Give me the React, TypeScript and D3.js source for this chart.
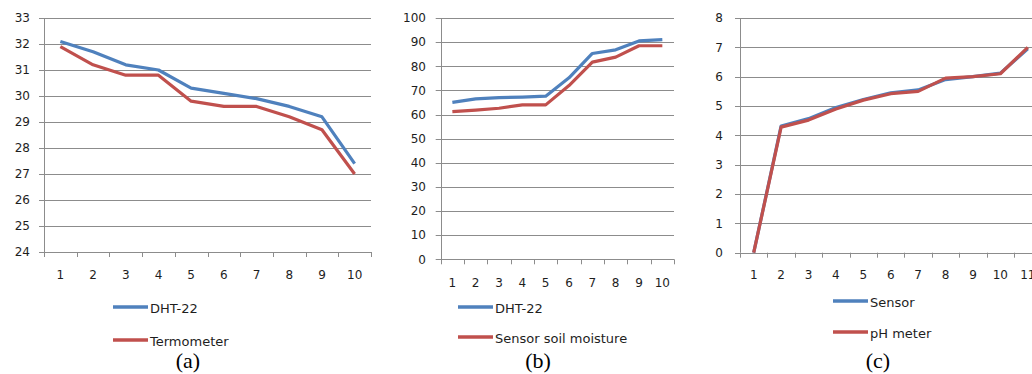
import React from 'react';
import * as d3 from 'd3';

// panel (a): temperature
const catsA = ['1', '2', '3', '4', '5', '6', '7', '8', '9', '10'];
const dhtTemp = [32.1, 31.7, 31.2, 31.0, 30.3, 30.1, 29.9, 29.6, 29.2, 27.4];
const termometer = [31.9, 31.2, 30.8, 30.8, 29.8, 29.6, 29.6, 29.2, 28.7, 27.0];
const ticksA = [24, 25, 26, 27, 28, 29, 30, 31, 32, 33];

// panel (b): humidity
const catsB = ['1', '2', '3', '4', '5', '6', '7', '8', '9', '10'];
const dhtHum = [65, 66.5, 67, 67.2, 67.6, 75.2, 85.3, 86.8, 90.5, 91];
const soilMoisture = [61.2, 61.8, 62.6, 64, 64, 72, 81.7, 83.8, 88.5, 88.5];
const ticksB = [0, 10, 20, 30, 40, 50, 60, 70, 80, 90, 100];

// panel (c): pH
const catsC = ['1', '2', '3', '4', '5', '6', '7', '8', '9', '10', '11'];
const phSensor = [0, 4.32, 4.57, 4.95, 5.22, 5.45, 5.55, 5.9, 6.0, 6.12, 6.95];
const phMeter = [0, 4.28, 4.52, 4.9, 5.2, 5.42, 5.5, 5.95, 6.0, 6.1, 7.0];
const ticksC = [0, 1, 2, 3, 4, 5, 6, 7, 8];

const BLUE = '#4f81bd';
const RED = '#c0504d';
const GRID = '#8c8c8c';
const TEXT = '#1e1e1e';
const FONT = 'DejaVu Sans, Verdana, sans-serif';

type Panel = {
  cats: string[];
  series: { name: string; values: number[]; color: string }[];
  ticks: number[];
  x0: number; x1: number; yTop: number; yBot: number;
  labelRight: number; xLabelY: number;
  legX: number; legY: number[]; caption: string; captionX: number;
};

const panels: Panel[] = [
  {
    cats: catsA,
    series: [
      { name: 'DHT-22', values: dhtTemp, color: BLUE },
      { name: 'Termometer', values: termometer, color: RED },
    ],
    ticks: ticksA,
    x0: 44, x1: 371, yTop: 18, yBot: 252,
    labelRight: 30, xLabelY: 275,
    legX: 113, legY: [307, 340], caption: '(a)', captionX: 188,
  },
  {
    cats: catsB,
    series: [
      { name: 'DHT-22', values: dhtHum, color: BLUE },
      { name: 'Sensor soil moisture', values: soilMoisture, color: RED },
    ],
    ticks: ticksB,
    x0: 440.7, x1: 674, yTop: 18, yBot: 259.3,
    labelRight: 426, xLabelY: 283,
    legX: 458, legY: [307, 337], caption: '(b)', captionX: 538,
  },
  {
    cats: catsC,
    series: [
      { name: 'Sensor', values: phSensor, color: BLUE },
      { name: 'pH meter', values: phMeter, color: RED },
    ],
    ticks: ticksC,
    x0: 740, x1: 1041.5, yTop: 18, yBot: 252.7,
    labelRight: 723, xLabelY: 275,
    legX: 833, legY: [301, 332], caption: '(c)', captionX: 878,
  },
];

function LineChart({ p }: { p: Panel }) {
  const x = d3.scaleBand().domain(p.cats).range([p.x0, p.x1]).padding(0);
  const y = d3.scaleLinear()
    .domain([p.ticks[0], p.ticks[p.ticks.length - 1]])
    .range([p.yBot, p.yTop]);
  const cx = (c: string) => (x(c) as number) + x.bandwidth() / 2;
  const line = d3.line<number>()
    .x((_, i) => cx(p.cats[i]))
    .y(d => y(d));
  const bounds = p.cats.map(c => x(c) as number).concat([p.x1]);

  return (
    <g>
      {/* gridlines + y ticks */}
      {p.ticks.map(t => (
        <g key={t}>
          <line x1={p.x0 - 5} x2={p.x1} y1={Math.round(y(t)) + 0.5} y2={Math.round(y(t)) + 0.5}
            stroke={GRID} strokeWidth={1} />
          <text x={p.labelRight} y={y(t)} dy="0.36em" textAnchor="end"
            fontSize={12} fill={TEXT}>{t}</text>
        </g>
      ))}
      {/* axes */}
      <line x1={Math.round(p.x0) + 0.5} x2={Math.round(p.x0) + 0.5} y1={p.yTop} y2={p.yBot}
        stroke={GRID} />
      {bounds.map((b, i) => (
        <line key={i} x1={Math.round(b) + 0.5} x2={Math.round(b) + 0.5}
          y1={p.yBot} y2={p.yBot + 5} stroke={GRID} />
      ))}
      {p.cats.map(c => (
        <text key={c} x={cx(c)} y={p.xLabelY} dy="0.36em" textAnchor="middle"
          fontSize={12} fill={TEXT}>{c}</text>
      ))}
      {/* series */}
      {p.series.map(s => (
        <path key={s.name} d={line(s.values) || ''} fill="none" stroke={s.color}
          strokeWidth={3.2} strokeLinejoin="round" />
      ))}
      {/* legend */}
      {p.series.map((s, i) => (
        <g key={s.name}>
          <line x1={p.legX} x2={p.legX + 35} y1={p.legY[i]} y2={p.legY[i]}
            stroke={s.color} strokeWidth={3.5} />
          <text x={p.legX + 37} y={p.legY[i] + 1} dy="0.36em" fontSize={13} fill={TEXT}>{s.name}</text>
        </g>
      ))}
      <text x={p.captionX} y={368} textAnchor="middle" fontSize={22}
        fontFamily="Liberation Serif, Times New Roman, serif" fill="#000">{p.caption}</text>
    </g>
  );
}

export default function App() {
  return (
    <div style={{ position: 'absolute', left: 0, top: 0 }}>
      <svg width={1032} height={374} style={{ display: 'block', background: '#fff' }}
        fontFamily={FONT}>
        {panels.map(p => <LineChart key={p.caption} p={p} />)}
      </svg>
    </div>
  );
}
